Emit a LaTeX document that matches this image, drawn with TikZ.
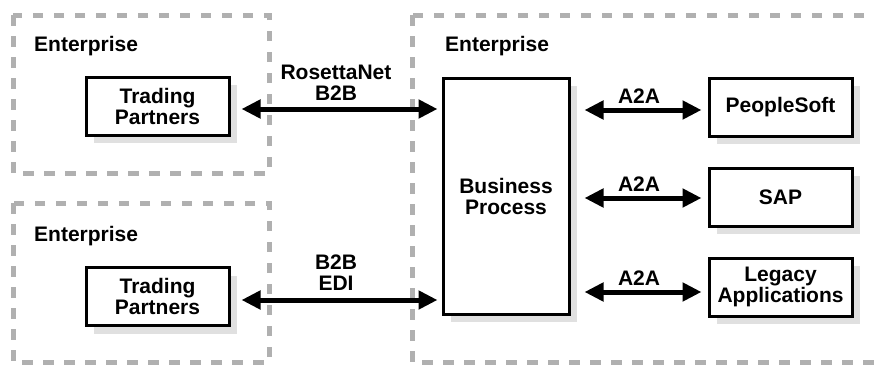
\documentclass[tikz,border=0pt]{standalone}
\usepackage{fontspec}
\setmainfont{Liberation Sans}
\usetikzlibrary{arrows.meta,shadows}
\definecolor{FrameClr}{rgb}{0.69,0.69,0.69}
\definecolor{ShadowClr}{rgb}{0.88,0.88,0.88}

\begin{document}
\begin{tikzpicture}[x=1pt,y=-1pt,
  font=\fontsize{21}{21}\selectfont\bfseries,
  zone/.style={draw=FrameClr,line width=5pt,dash pattern=on 10.5pt off 10.5pt},
  unit/.style={draw,line width=3pt,fill=white,align=center,inner sep=0pt,
    minimum width=143pt,minimum height=58pt,
    drop shadow={shadow xshift=8pt,shadow yshift=-8pt,fill=ShadowClr,opacity=1}},
  link/.style={line width=5pt,{Triangle[length=19pt,width=18pt]}-{Triangle[length=19pt,width=18pt]}},
  tag/.style={align=center,inner sep=0pt}]
\useasboundingbox (0,0) rectangle (874,364);

\draw[zone] (13,15) rectangle (269,173);
\draw[zone] (13,203) rectangle (269,362);
\draw[zone] (412,15) rectangle (900,362);

\node[tag,anchor=base west] (entA) at (34,51) {Enterprise};
\node[tag,anchor=base west] (entB) at (34,241) {Enterprise};
\node[tag,anchor=base west] (entC) at (445,51) {Enterprise};

\node[unit] (tpa) at (157.5,106) {Trading\\Partners};
\node[unit] (tpb) at (157.5,296.5) {Trading\\Partners};
\node[unit,minimum width=126pt,minimum height=236pt] (bp) at (506,196) {Business\\Process};
\node[unit] (ps) at (780.5,107) {PeopleSoft};
\node[unit] (sap) at (780.5,197) {SAP};
\node[unit] (leg) at (780.5,287) {Legacy\\Applications};

\draw[link,shorten <=11pt,shorten >=4pt] ([yshift=-3pt]tpa.east) -- ([yshift=-3pt]tpa.east -| bp.west)
  node[midway,above=6pt,tag] {RosettaNet\\B2B};
\draw[link,shorten <=11pt,shorten >=4pt] ([yshift=-3.5pt]tpb.east) -- ([yshift=-3.5pt]tpb.east -| bp.west)
  node[midway,above=7pt,tag] {B2B\\EDI};

\draw[link,shorten <=14pt,shorten >=6pt] ([yshift=-3pt]ps.west -| bp.east) -- ([yshift=-3pt]ps.west)
  node[midway,above=4pt,tag] {A2A};
\draw[link,shorten <=14pt,shorten >=6pt] ([yshift=-1pt]sap.west -| bp.east) -- ([yshift=-1pt]sap.west)
  node[midway,above=4pt,tag] {A2A};
\draw[link,shorten <=14pt,shorten >=6pt] ([yshift=-5pt]leg.west -| bp.east) -- ([yshift=-5pt]leg.west)
  node[midway,above=4pt,tag] {A2A};

\end{tikzpicture}
\end{document}
